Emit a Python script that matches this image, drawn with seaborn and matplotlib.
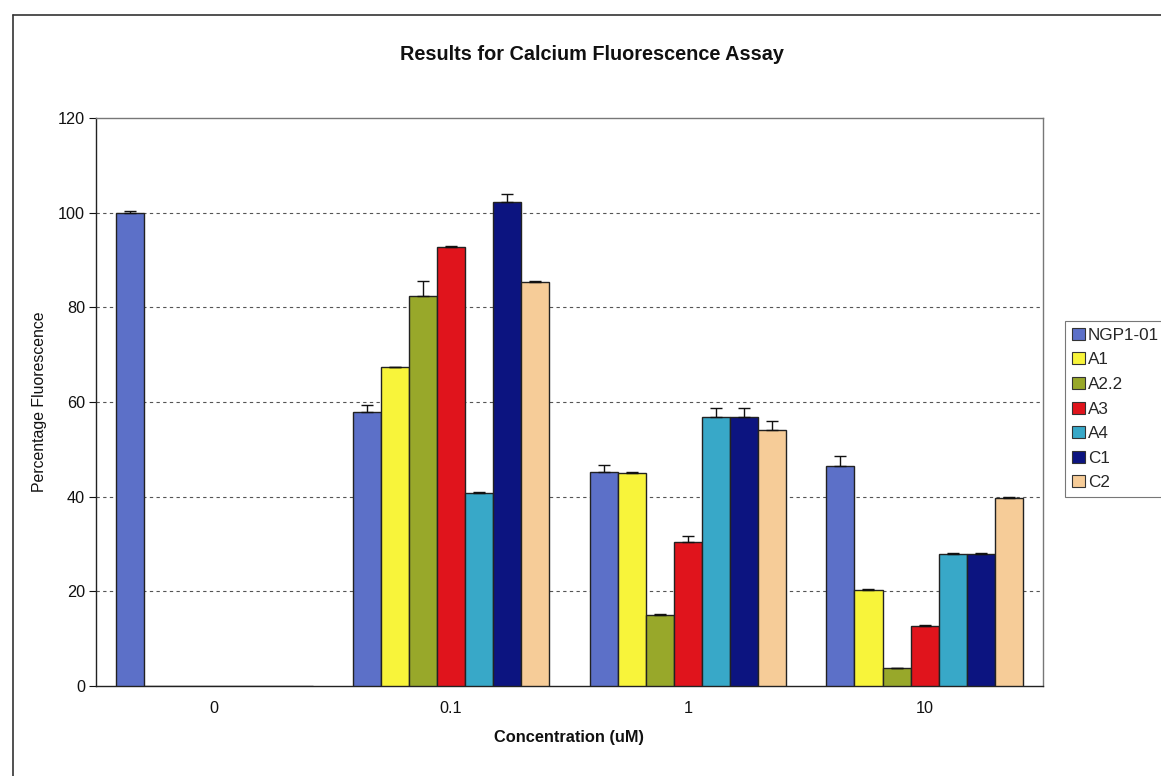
import matplotlib
matplotlib.use("Agg")
import matplotlib.pyplot as plt
import seaborn as sns
import pandas as pd
import numpy as np
from matplotlib.lines import Line2D
from matplotlib.patches import Patch

categories = ["0", "0.1", "1", "10"]
series = ["NGP1-01", "A1", "A2.2", "A3", "A4", "C1", "C2"]

ngp1_01 = [100.0, 57.8, 45.3, 46.5]
a1 = [0.0, 67.3, 45.1, 20.3]
a2_2 = [0.0, 82.4, 15.1, 3.7]
a3 = [0.0, 92.8, 30.5, 12.7]
a4 = [0.0, 40.7, 56.8, 27.8]
c1 = [0.0, 102.3, 56.9, 27.8]
c2 = [0.0, 85.3, 54.1, 39.8]

err_ngp1_01 = [0.3, 1.6, 1.3, 2.0]
err_a1 = [0.0, 0.2, 0.2, 0.2]
err_a2_2 = [0.0, 3.2, 0.2, 0.2]
err_a3 = [0.0, 0.2, 1.2, 0.2]
err_a4 = [0.0, 0.2, 2.0, 0.2]
err_c1 = [0.0, 1.6, 1.9, 0.2]
err_c2 = [0.0, 0.2, 1.8, 0.2]

colors = ["#5c70c8", "#f8f43a", "#98a82a", "#e0141c", "#38a8c8", "#0c1480", "#f6cc98"]

values = [ngp1_01, a1, a2_2, a3, a4, c1, c2]
errors = [err_ngp1_01, err_a1, err_a2_2, err_a3, err_a4, err_c1, err_c2]

rows = []
for s, vals, errs in zip(series, values, errors):
    for c, v, e in zip(categories, vals, errs):
        rows.append({"Concentration": c, "Series": s, "Value": v, "Err": e})
df = pd.DataFrame(rows)

sns.set_theme(style="white")
plt.rcParams["font.family"] = ["Liberation Sans", "DejaVu Sans"]

fig = plt.figure(figsize=(11.61, 7.76), dpi=100)
ax = fig.add_axes([96 / 1161, 90 / 776, (1043 - 96) / 1161, (686 - 118) / 776])

sns.barplot(data=df, x="Concentration", y="Value", hue="Series",
            order=categories, hue_order=series, palette=colors,
            width=0.83, gap=0, errorbar=None, edgecolor="#222222",
            linewidth=1.0, saturation=1, ax=ax, legend=False, zorder=3)

for cont, s in zip(ax.containers, series):
    sub = df[df["Series"] == s].set_index("Concentration").loc[categories]
    for bar, v, e in zip(cont, sub["Value"], sub["Err"]):
        if v <= 0:
            continue
        xc = bar.get_x() + bar.get_width() / 2
        ax.errorbar(xc, v, yerr=[[0], [e]], fmt="none", ecolor="#111111",
                    elinewidth=1.0, capsize=4, capthick=1.0, zorder=4)

ax.set_xlim(-0.5, 3.5)
ax.set_ylim(0, 120)
ax.set_yticks([0, 20, 40, 60, 80, 100, 120])
for yv in [20, 40, 60, 80, 100]:
    ax.axhline(yv, color="#555555", linestyle=(0, (3, 3)), linewidth=0.8, zorder=1)

ax.tick_params(axis="y", length=5, width=0.8, labelsize=11.7, colors="#111111", pad=3, direction="out", left=True)
ax.tick_params(axis="x", length=0, labelsize=11.7, pad=11, colors="#111111")
for sp in ["left", "bottom"]:
    ax.spines[sp].set_color("#222222")
    ax.spines[sp].set_linewidth(1.0)
for sp in ["top", "right"]:
    ax.spines[sp].set_color("#777777")
    ax.spines[sp].set_linewidth(1.0)

ax.set_xlabel("Concentration (uM)", fontsize=11.8, fontweight="bold", color="#111111", labelpad=10)
ax.set_ylabel("Percentage Fluorescence", fontsize=11.4, color="#111111", labelpad=8)

fig.text(592 / 1161, 1 - 55 / 776, "Results for Calcium Fluorescence Assay",
         ha="center", va="center", fontsize=14.3, fontweight="bold", color="#111111")

handles = [Patch(facecolor=c, edgecolor="#333333", linewidth=0.8, label=s) for c, s in zip(colors, series)]
leg = fig.legend(handles=handles, loc="upper left", bbox_to_anchor=(1065 / 1161, 1 - 321 / 776),
                 frameon=True, fontsize=12.3, handlelength=0.75, handleheight=0.7,
                 handletextpad=0.2, labelspacing=0.56, borderpad=0.4, borderaxespad=0,
                 fancybox=False)
leg.get_frame().set_edgecolor("#555555")
leg.get_frame().set_linewidth(0.8)

fig.add_artist(Line2D([13 / 1161, 1.0], [1 - 15 / 776, 1 - 15 / 776], color="#333333", linewidth=1.2))
fig.add_artist(Line2D([13 / 1161, 13 / 1161], [0, 1 - 15 / 776], color="#333333", linewidth=1.2))

fig.savefig("out.png", dpi=100)
